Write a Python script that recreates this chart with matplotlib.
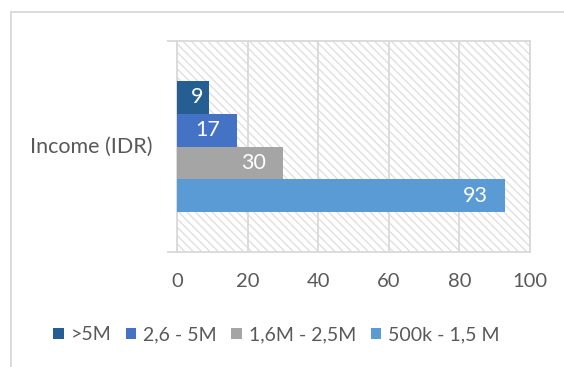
import matplotlib
matplotlib.use("Agg")
import matplotlib.pyplot as plt
from matplotlib.patches import Rectangle
from matplotlib.lines import Line2D

plt.rcParams['font.family'] = ['Lato', 'DejaVu Sans']
plt.rcParams['hatch.linewidth'] = 1.0

# data
category = "Income (IDR)"
series = [">5M", "2,6 - 5M", "1,6M - 2,5M", "500k - 1,5 M"]
values = [9, 17, 30, 93]
colors = ["#255E91", "#4472C4", "#A5A5A5", "#5B9BD5"]
xticks = [0, 20, 40, 60, 80, 100]

text_col = "#595959"
grid_col = "#D9D9D9"
fs = 15.5

fig = plt.figure(figsize=(5.64, 3.67), dpi=100)
ax = fig.add_axes([177/564, 1 - 252/367, 353/564, 211/367])

# outer chart frame (left + top edges visible)
fig.add_artist(Line2D([11/564, 11/564], [0, 1 - 12/367], color=grid_col, lw=1.3))
fig.add_artist(Line2D([11/564, 1], [1 - 12/367, 1 - 12/367], color=grid_col, lw=1.3))

# hatched plot background
ax.add_patch(Rectangle((0, 0), 1, 1, transform=ax.transAxes, facecolor='white',
                       edgecolor='#E0E0E0', hatch='\\\\\\\\', linewidth=0, zorder=0))

n = len(values)
bh = 0.155
for i, (v, c, lab) in enumerate(zip(values, colors, series)):
    y = (n - 1) / 2 * bh - i * bh
    ax.barh(y, v, height=bh, color=c, label=lab, zorder=3)
    # white label, inside end
    w_px = v * 353 / 100
    pad = -17 if w_px > 50 else -5
    ax.annotate(str(v), (v, y), xytext=(pad, 0), textcoords='offset pixels',
                ha='right', va='center', color='white', fontsize=fs, zorder=4)

ax.set_xlim(0, 100)
ax.set_ylim(-0.5, 0.5)
ax.set_xticks(xticks)
ax.tick_params(axis='x', length=0, pad=15, labelsize=14.5, labelcolor=text_col)
ax.grid(axis='x', color=grid_col, lw=1.3, zorder=1)
ax.set_axisbelow(True)

ax.set_yticks([-0.5, 0.5])
ax.set_yticklabels([])
ax.tick_params(axis='y', length=7, width=1.3, color=grid_col)
ax.text(-24 / 353 * 100, 0, category, ha='right', va='center', fontsize=fs, color=text_col)

for s in ax.spines.values():
    s.set_color(grid_col)
    s.set_linewidth(1.3)

ax.legend(loc='center', bbox_to_anchor=(0.49, 1 - 335/367),
          bbox_transform=fig.transFigure, ncol=4, frameon=False,
          fontsize=14, labelcolor=text_col, handlelength=0.55, handleheight=0.55,
          handletextpad=0.35, columnspacing=0.75, borderaxespad=0)

fig.savefig("out.png", dpi=100)
